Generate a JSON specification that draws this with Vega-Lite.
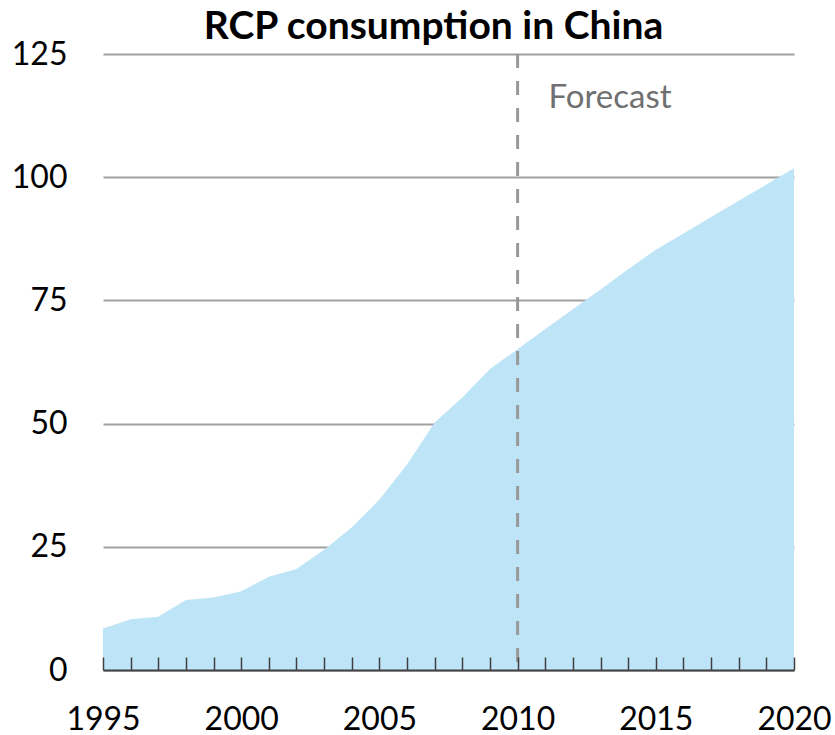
{
  "$schema": "https://vega.github.io/schema/vega-lite/v6.json",
  "width": 691,
  "height": 616,
  "autosize": {"type": "none"},
  "padding": {"left": 103, "top": 54, "right": 41, "bottom": 65},
  "background": "white",
  "title": {
    "text": "RCP consumption in China",
    "font": "Lato",
    "fontSize": 39,
    "fontWeight": "bold",
    "color": "#000000",
    "anchor": "middle",
    "dx": -15,
    "offset": -9
  },
  "config": {
    "view": {"stroke": null},
    "axis": {"labelFont": "Lato", "labelFontSize": 32, "labelColor": "#000000", "title": null}
  },
  "resolve": {"axis": {"x": "independent"}},
  "layer": [
    {
      "data": {"values": [
        {"year": 1995, "value": 8.4},
        {"year": 1996, "value": 10.3},
        {"year": 1997, "value": 10.8},
        {"year": 1998, "value": 14.2},
        {"year": 1999, "value": 14.7},
        {"year": 2000, "value": 16.0},
        {"year": 2001, "value": 18.9},
        {"year": 2002, "value": 20.5},
        {"year": 2003, "value": 24.4},
        {"year": 2004, "value": 28.9},
        {"year": 2005, "value": 34.6},
        {"year": 2006, "value": 41.7},
        {"year": 2007, "value": 50.2},
        {"year": 2008, "value": 55.3},
        {"year": 2009, "value": 61.1},
        {"year": 2010, "value": 65.1},
        {"year": 2011, "value": 69.2},
        {"year": 2012, "value": 73.2},
        {"year": 2013, "value": 77.2},
        {"year": 2014, "value": 81.3},
        {"year": 2015, "value": 85.3},
        {"year": 2016, "value": 88.6},
        {"year": 2017, "value": 91.9},
        {"year": 2018, "value": 95.2},
        {"year": 2019, "value": 98.5},
        {"year": 2020, "value": 101.8}
      ]},
      "mark": {"type": "area", "color": "#BEE4F7", "opacity": 1},
      "encoding": {
        "x": {
          "field": "year", "type": "quantitative",
          "scale": {"domain": [1995, 2020], "nice": false, "zero": false},
          "axis": {
            "orient": "bottom",
            "values": [1995,1996,1997,1998,1999,2000,2001,2002,2003,2004,2005,2006,2007,2008,2009,2010,2011,2012,2013,2014,2015,2016,2017,2018,2019,2020],
            "labels": false,
            "grid": false,
            "domainColor": "#404040",
            "domainWidth": 2,
            "tickColor": "#404040",
            "tickWidth": 1.5,
            "tickSize": -13,
            "zindex": 1
          }
        },
        "y": {
          "field": "value", "type": "quantitative",
          "scale": {"domain": [0, 125], "nice": false},
          "axis": {
            "values": [0, 25, 50, 75, 100, 125],
            "domain": false,
            "ticks": false,
            "grid": true,
            "gridColor": "#A0A0A0",
            "gridWidth": 2,
            "labelPadding": 36,
            "zindex": 0
          }
        }
      }
    },
    {
      "data": {"values": [{"year": 2010, "label": "Forecast"}]},
      "layer": [
        {
          "mark": {"type": "rule", "color": "#999999", "strokeWidth": 3, "strokeDash": [14, 13]},
          "encoding": {
            "x": {
              "field": "year", "type": "quantitative",
              "axis": {
                "orient": "bottom",
                "values": [1995, 2000, 2005, 2010, 2015, 2020],
                "format": "d",
                "grid": false,
                "domain": false,
                "ticks": false,
                "labelPadding": 34,
                "labelFlush": false,
                "labelOverlap": false,
                "labelBound": false
              }
            }
          }
        },
        {
          "mark": {"type": "text", "align": "left", "baseline": "middle", "dx": 31, "font": "Lato", "fontSize": 33, "color": "#707070"},
          "encoding": {
            "x": {"field": "year", "type": "quantitative"},
            "y": {"datum": 116},
            "text": {"field": "label"}
          }
        }
      ]
    }
  ]
}
